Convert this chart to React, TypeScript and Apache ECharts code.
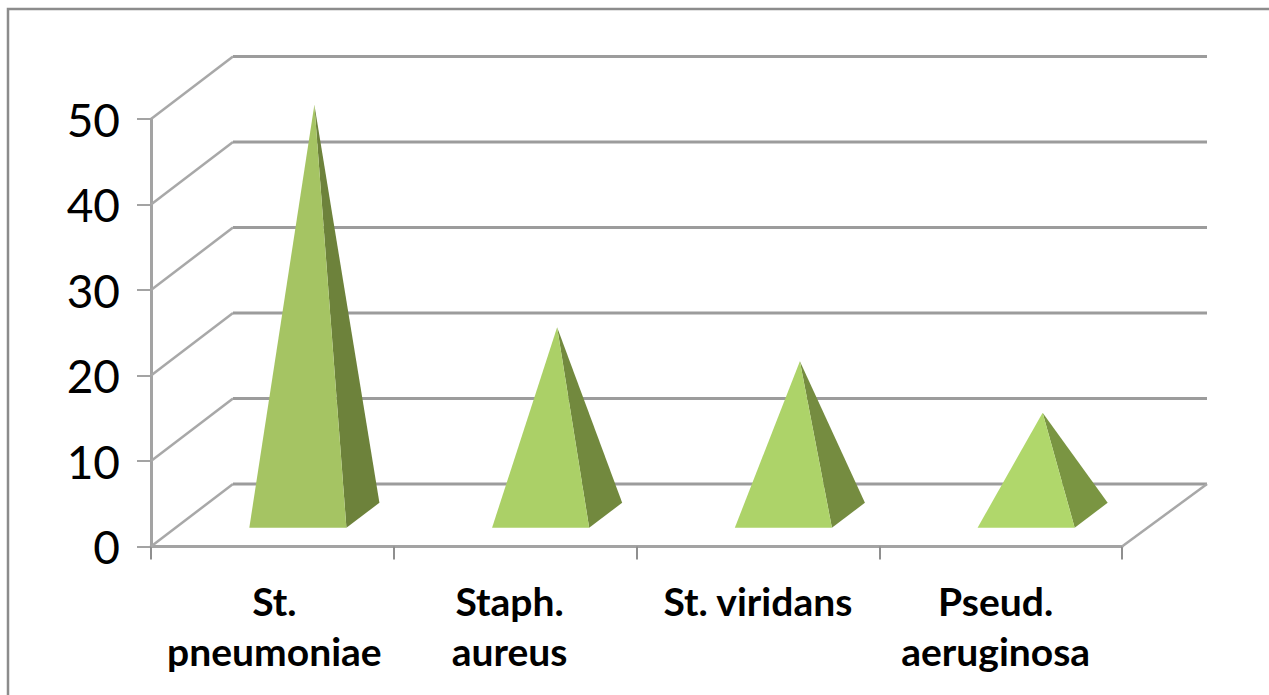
import React, { useEffect, useRef } from "react";
import * as echarts from "echarts";

const categories = ["St.\npneumoniae", "Staph.\naureus", "St. viridans", "Pseud.\naeruginosa"];
const values = [48, 22, 18, 12];
const frontColors = ["#a5c463", "#abd067", "#add369", "#b0d76b"];
const sideColors = ["#6d823b", "#72893e", "#758c40", "#7a9542"];
const yTicks = [0, 10, 20, 30, 40, 50];
const labelShiftRight = [4, 0, 0, 0];
const labelShiftLeft = [0, 11, 0, 10];
const LINE = "#a3a3a3";
const DX_LEFT = 82;
const DX_RIGHT = 85;
const DX = 84;
const DY = -62.5;
const FONT = "Lato, 'Noto Sans', sans-serif";

export default function App() {
  const ref = useRef<HTMLDivElement>(null);
  useEffect(() => {
    document.body.style.margin = "0";
    const chart = echarts.init(ref.current!, undefined, { renderer: "svg" });
    const rich: Record<string, any> = {};
    categories.forEach((_, i) => {
      rich["c" + i] = {
        color: "#000",
        fontFamily: FONT,
        fontWeight: "bold",
        fontSize: 39,
        lineHeight: 50,
        padding: [0, labelShiftLeft[i], 0, labelShiftRight[i]],
      };
    });
    chart.setOption({
      animation: false,
      backgroundColor: "#ffffff",
      graphic: [
        {
          type: "polyline",
          silent: true,
          z: -1,
          shape: { points: [[8, 695], [8, 9], [1269, 9]] },
          style: { fill: "none", stroke: "#8c8c8c", lineWidth: 2.5 },
        },
      ],
      grid: { left: 151, top: 119, width: 971, height: 427.5 },
      xAxis: {
        type: "category",
        data: categories,
        axisLine: { show: true, lineStyle: { color: LINE, width: 3 } },
        axisTick: { show: true, length: 13, alignWithLabel: false, lineStyle: { color: "#8f8f8f", width: 2 } },
        axisLabel: {
          margin: 29,
          interval: 0,
          rich,
          formatter: (v: string) => {
            const i = categories.indexOf(v);
            return v
              .split("\n")
              .map((line) => `{c${i}|${line}}`)
              .join("\n");
          },
        },
      },
      yAxis: {
        type: "value",
        min: 0,
        max: 50,
        interval: 10,
        splitLine: { show: false },
        axisLine: { show: true, lineStyle: { color: LINE, width: 3 } },
        axisTick: { show: true, length: 14, lineStyle: { color: LINE, width: 2 } },
        axisLabel: { color: "#000", fontFamily: FONT, fontSize: 46, margin: 31 },
      },
      series: [
        {
          type: "custom",
          name: "walls",
          coordinateSystem: "cartesian2d",
          clip: false,
          silent: true,
          z: 1,
          data: yTicks.map((t) => [0, t]),
          renderItem: (_p: any, api: any) => {
            const v = api.value(1);
            const [, y0] = api.coord([0, v]);
            const left = _p.coordSys.x;
            const right = left + _p.coordSys.width;
            const children: any[] = [
              {
                type: "line",
                shape: { x1: left, y1: y0, x2: left + DX_LEFT, y2: y0 + DY },
                style: { stroke: "#a8a8a8", lineWidth: 2.5 },
              },
              {
                type: "line",
                shape: { x1: left + DX_LEFT, y1: y0 + DY, x2: right + DX_RIGHT, y2: y0 + DY },
                style: { stroke: "#9c9c9c", lineWidth: 3 },
              },
            ];
            if (v === 0) {
              children.push({
                type: "line",
                shape: { x1: right, y1: y0, x2: right + DX_RIGHT, y2: y0 + DY },
                style: { stroke: "#a8a8a8", lineWidth: 2.5 },
              });
            }
            return { type: "group", children };
          },
        },
        {
          type: "custom",
          name: "pyramids",
          coordinateSystem: "cartesian2d",
          clip: false,
          silent: true,
          z: 3,
          data: values.map((v, i) => [i, v]),
          renderItem: (_p: any, api: any) => {
            const i = api.value(0);
            const [cx, y0] = api.coord([i, 0]);
            const [, yv] = api.coord([i, api.value(1)]);
            const mx = cx + DX / 2;
            const my = y0 + DY / 2;
            const halfW = api.size([1, 0])[0] * 0.2;
            const dxh = 16.5;
            const dyh = 12.5;
            const apex = [mx, yv + DY / 2];
            const fl = [mx - halfW - dxh, my + dyh];
            const fr = [mx + halfW - dxh, my + dyh];
            const br = [mx + halfW + dxh, my - dyh];
            return {
              type: "group",
              children: [
                { type: "polygon", shape: { points: [apex, fr, br] }, style: { fill: sideColors[i] } },
                { type: "polygon", shape: { points: [apex, fl, fr] }, style: { fill: frontColors[i] } },
              ],
            };
          },
        },
      ],
    });
    return () => chart.dispose();
  }, []);
  return <div ref={ref} style={{ position: "absolute", left: 0, top: 0, width: 1269, height: 695 }} />;
}
